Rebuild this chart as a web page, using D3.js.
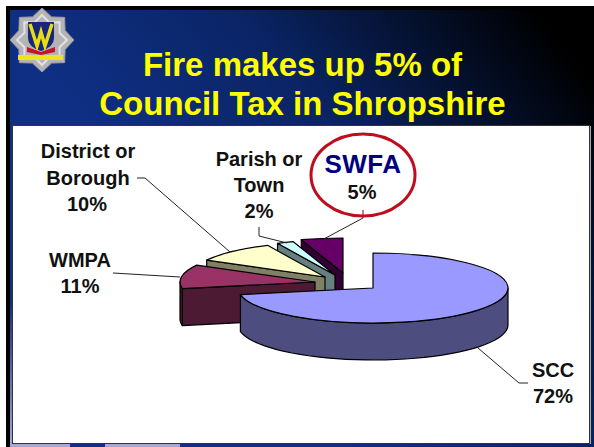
<!DOCTYPE html>
<html>
<head>
<meta charset="utf-8">
<script src="https://cdn.jsdelivr.net/npm/d3@7"></script>
<style>
  html, body { margin: 0; padding: 0; background: #fff; }
  svg { display: block; }
  text { font-family: "Liberation Sans", Arial, sans-serif; font-weight: bold; }
</style>
</head>
<body>
<div id="chart"></div>
<script>
// Data, in pie order (clockwise from 12 o'clock)
const categories = ["SCC", "WMPA", "District or Borough", "Parish or Town", "SWFA"];
const shares = [72, 11, 10, 2, 5];

// Slide size
const width = 594;
const height = 447;

// Pie geometry: flattened disc, each slice dragged to its own apex
const rx = 135;
const ry = 35;
const depth = 37;
const apexes = [[373, 288], [315, 282], [325, 277], [335, 275], [343, 273]];
const topColors = ["#9999ff", "#993366", "#ffffcc", "#ccffff", "#660066"];
const sideColors = ["#4d4d80", "#4d1a33", "#808066", "#668080", "#330033"];

const svg = d3.select("#chart")
    .append("svg")
    .attr("width", width)
    .attr("height", height);

const defs = svg.append("defs");

// Navy to black slide background
const bg = defs.append("linearGradient")
    .attr("id", "bg")
    .attr("gradientUnits", "userSpaceOnUse")
    .attr("x1", 150).attr("y1", 200)
    .attr("x2", 480).attr("y2", -60);
bg.append("stop").attr("offset", 0).attr("stop-color", "#0f2f84");
bg.append("stop").attr("offset", 0.45).attr("stop-color", "#0a2464");
bg.append("stop").attr("offset", 1).attr("stop-color", "#000000");

const edge = defs.append("linearGradient")
    .attr("id", "edge")
    .attr("x1", 0).attr("y1", 0).attr("x2", 0).attr("y2", 1);
edge.append("stop").attr("offset", 0).attr("stop-color", "#0f2f84");
edge.append("stop").attr("offset", 1).attr("stop-color", "#a8a8d4");

// Slide
svg.append("rect").attr("width", width).attr("height", height).attr("fill", "#fff");
svg.append("rect").attr("x", 6).attr("y", 6).attr("width", width - 6).attr("height", height - 6).attr("fill", "#000");
svg.append("rect").attr("x", 10).attr("y", 10).attr("width", width - 10).attr("height", height - 10).attr("fill", "url(#bg)");
svg.append("rect").attr("x", 10).attr("y", 300).attr("width", 3).attr("height", 147).attr("fill", "url(#edge)");
[[10, 60], [105, 75]].forEach(s => {
    svg.append("rect").attr("x", s[0]).attr("y", 444).attr("width", s[1]).attr("height", 3).attr("fill", "#a8a8d4");
});

// White chart panel
svg.append("rect")
    .attr("x", 12.5).attr("y", 125.5)
    .attr("width", 577).attr("height", 318)
    .attr("fill", "#fff")
    .attr("stroke", "#333")
    .attr("stroke-width", 1);
svg.append("line")
    .attr("x1", 590.5).attr("x2", 590.5).attr("y1", 126).attr("y2", 444)
    .attr("stroke", "#aaa");

// Title
svg.selectAll(".title")
    .data([["Fire makes up 5% of", 76], ["Council Tax in Shropshire", 115]])
    .enter()
    .append("text")
    .attr("class", "title")
    .attr("x", 302.5)
    .attr("y", d => d[1])
    .attr("text-anchor", "middle")
    .attr("fill", "#ffff00")
    .style("font-size", "33px")
    .text(d => d[0]);

// Fire service badge
const badge = svg.append("g").attr("transform", "translate(42,40)");
const star = d3.lineRadial().curve(d3.curveLinearClosed);
badge.append("path")
    .attr("d", star(d3.range(16).map(i => [i * Math.PI / 8, i % 2 ? 25 : 32])))
    .attr("fill", "#b4b4b4")
    .attr("stroke", "#9a9a9a");
badge.append("path")
    .attr("d", star(d3.range(16).map(i => [i * Math.PI / 8, i % 2 ? 19 : 25])))
    .attr("fill", "none")
    .attr("stroke", "#e2e2e2")
    .attr("stroke-width", 2);
badge.append("path")
    .attr("d", "M-14,-18H12V-2Q12,7 -1,11Q-14,7 -14,-2Z")
    .attr("fill", "#16267a");
badge.append("path")
    .attr("d", "M-12,-16L-5,6L-1,-8L3,6L10,-16")
    .attr("fill", "none")
    .attr("stroke", "#e8dc14")
    .attr("stroke-width", 3.5);
badge.append("path")
    .attr("d", "M-15,7L-1,12L13,7V12L-1,15L-15,12Z")
    .attr("fill", "#c4161c");
badge.append("rect")
    .attr("x", -24).attr("y", 15).attr("width", 45).attr("height", 5)
    .attr("fill", "#ece41e");

// Pie slices through d3.pie, kept in the data order
const pie = d3.pie().sort(null).value(d => d);
const slices = pie(shares).map((s, i) => ({
    ...s,
    apex: apexes[i],
    top: topColors[i],
    side: sideColors[i]
}));

const arc = d3.arc().innerRadius(0).outerRadius(rx);
const line = d3.line();

// Point on the rim of a slice, dropped by z for the lower edge
function rim(s, a, z) {
    return [s.apex[0] + rx * Math.sin(a), s.apex[1] - ry * Math.cos(a) + z];
}

// Painted back to front so the big slice sits over the others
const paintOrder = [4, 3, 2, 1, 0];
const pieG = svg.append("g")
    .attr("stroke", "#000")
    .attr("stroke-width", 1.2)
    .attr("stroke-linejoin", "round");

paintOrder.forEach(i => {
    const s = slices[i];

    // Wall along the cut that faces the viewer (left hand slices only)
    if (s.startAngle > Math.PI) {
        const p = rim(s, s.startAngle, 0);
        const q = rim(s, s.startAngle, depth);
        pieG.append("path")
            .attr("d", line([p, s.apex, [s.apex[0], s.apex[1] + depth], q]) + "Z")
            .attr("fill", s.side);
    }

    // Curved outer wall, only the front half of the disc shows
    const from = Math.max(s.startAngle, Math.PI / 2);
    const to = Math.min(s.endAngle, 3 * Math.PI / 2);
    if (to > from) {
        const steps = d3.range(0, 41).map(k => from + (to - from) * k / 40);
        const upper = steps.map(a => rim(s, a, 0));
        const lower = steps.map(a => rim(s, a, depth)).reverse();
        pieG.append("path")
            .attr("d", line(upper.concat(lower)) + "Z")
            .attr("fill", s.side);
    }

    // Top face
    pieG.append("path")
        .attr("d", arc(s))
        .attr("transform", `translate(${s.apex[0]},${s.apex[1]}) scale(1,${ry / rx})`)
        .attr("vector-effect", "non-scaling-stroke")
        .attr("fill", s.top);
});

// Leader lines
const leaders = [
    [[528, 383], [519, 383], [478, 348]],
    [[113, 273], [180, 277]],
    [[137, 178], [145, 178], [230, 252]],
    [[259, 227], [259, 236], [287, 243]],
    [[363, 210], [363, 218], [322, 240]]
];
svg.selectAll(".leader")
    .data(leaders)
    .enter()
    .append("path")
    .attr("class", "leader")
    .attr("d", d => line(d))
    .attr("fill", "none")
    .attr("stroke", "#222")
    .attr("stroke-width", 1);

// Labels
const labelRows = [
    ["SCC", 553, 377], [shares[0] + "%", 553, 403],
    ["WMPA", 80, 267], [shares[1] + "%", 80, 293],
    ["District or", 88, 158], ["Borough", 88, 185], [shares[2] + "%", 87, 211],
    ["Parish or", 259, 166], ["Town", 259, 192], [shares[3] + "%", 259, 218],
    [shares[4] + "%", 362, 199]
];
svg.selectAll(".label")
    .data(labelRows)
    .enter()
    .append("text")
    .attr("class", "label")
    .attr("x", d => d[1])
    .attr("y", d => d[2])
    .attr("text-anchor", "middle")
    .attr("fill", "#111")
    .style("font-size", "20px")
    .text(d => d[0]);

// SWFA callout
svg.append("text")
    .attr("x", 363)
    .attr("y", 173)
    .attr("text-anchor", "middle")
    .attr("fill", "#000080")
    .style("font-size", "26px")
    .style("letter-spacing", "0.5px")
    .text(categories[4]);
svg.append("ellipse")
    .attr("cx", 363).attr("cy", 175)
    .attr("rx", 52).attr("ry", 41)
    .attr("fill", "none")
    .attr("stroke", "#c00d1e")
    .attr("stroke-width", 3);
</script>
</body>
</html>
